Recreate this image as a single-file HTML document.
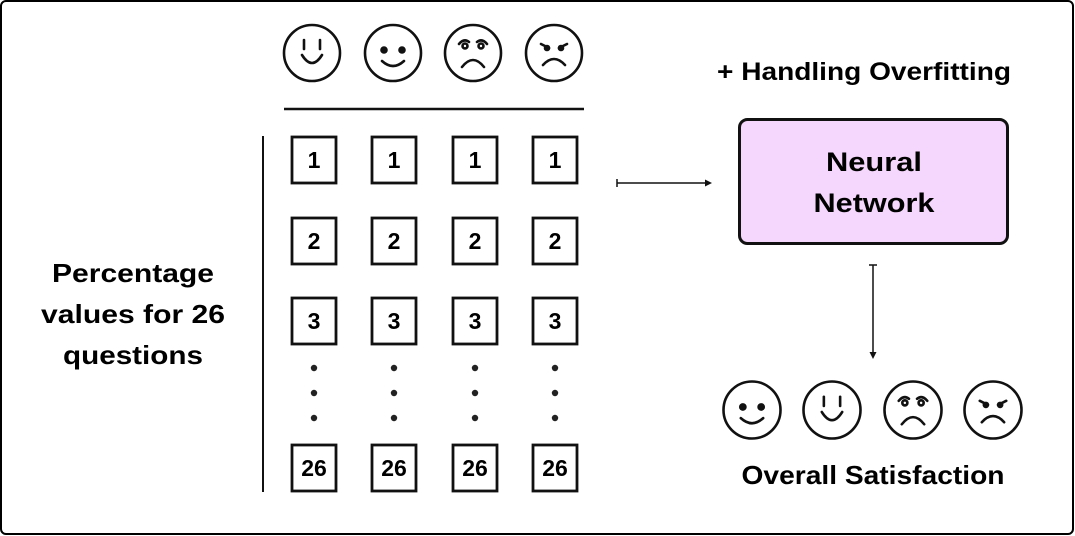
<!DOCTYPE html>
<html><head><meta charset="utf-8"><style>
html,body{margin:0;padding:0;background:#fff;}
svg{display:block;font-family:"Liberation Sans",sans-serif;font-weight:bold;}
</style></head><body>
<svg id="s" width="1075" height="536" viewBox="0 0 1075 536" xmlns="http://www.w3.org/2000/svg">
<rect x="1" y="1" width="1072" height="533" rx="5" fill="#fff" stroke="#000" stroke-width="2"/>
<line x1="284" y1="109" x2="584" y2="109" stroke="#111" stroke-width="2.5"/>
<line x1="263" y1="136" x2="263" y2="492" stroke="#111" stroke-width="2"/>
<g font-size="26" text-anchor="middle" fill="#000">
<text x="133" y="282" textLength="162" lengthAdjust="spacingAndGlyphs">Percentage</text>
<text x="133" y="323" textLength="184" lengthAdjust="spacingAndGlyphs">values for 26</text>
<text x="133" y="364" textLength="140" lengthAdjust="spacingAndGlyphs">questions</text>
</g>
<text x="864" y="80" font-size="25" text-anchor="middle" textLength="294" lengthAdjust="spacingAndGlyphs">+ Handling Overfitting</text>
<g>
<line x1="617" y1="183" x2="707" y2="183" stroke="#111" stroke-width="1.5"/>
<line x1="617" y1="179" x2="617" y2="187" stroke="#111" stroke-width="1.5"/>
<polygon points="712,183 705,179.5 705,186.5" fill="#111"/>
</g>
<rect x="739.5" y="119.5" width="268" height="124" rx="8" fill="#f5d6fc" stroke="#111" stroke-width="3"/>
<g font-size="27" text-anchor="middle">
<text x="874" y="171" textLength="96" lengthAdjust="spacingAndGlyphs">Neural</text>
<text x="874" y="212" textLength="121" lengthAdjust="spacingAndGlyphs">Network</text>
</g>
<g>
<line x1="873" y1="265" x2="873" y2="353" stroke="#111" stroke-width="1.5"/>
<line x1="869" y1="265" x2="877" y2="265" stroke="#111" stroke-width="1.5"/>
<polygon points="873,359 869.5,352 876.5,352" fill="#111"/>
</g>
<text x="873" y="484" font-size="26" text-anchor="middle" textLength="263" lengthAdjust="spacingAndGlyphs">Overall Satisfaction</text>
<g id="faces"></g>
<g id="grid"></g>
</svg>
<script>
const cols=[314,394,475,555];
const rows=[{y:160,t:'1'},{y:241,t:'2'},{y:321,t:'3'},{y:468,t:'26'}];
const dotsY=[368,393,418];
const topFaces=['smile','happy','sad','angry'];
const botFaces=['happy','smile','sad','angry'];
const NS='http://www.w3.org/2000/svg';
function mk(tag,attrs,parent){const e=document.createElementNS(NS,tag);for(const k in attrs)e.setAttribute(k,attrs[k]);parent.appendChild(e);return e;}
const grid=document.getElementById('grid');
cols.forEach((cx,ci)=>{
  rows.forEach(r=>{
    const g=mk('g',{},grid);
    
    
    mk('rect',{x:cx-22,y:r.y-23,width:44,height:46,fill:'#fff',stroke:'#111','stroke-width':2.8},g);
    const t=mk('text',{x:cx,y:r.y+8,'font-size':23,'text-anchor':'middle'},g);t.textContent=r.t;
  });
  dotsY.forEach(y=>{const d=mk('circle',{cx:cx,cy:y,r:3.2,fill:'#222'},grid);
    
    });
});
const faces=document.getElementById('faces');
function face(type,cx,cy,r){
  const g=mk('g',{fill:'none',stroke:'#111','stroke-width':2.6,'stroke-linecap':'round'},faces);
  
  
  mk('circle',{cx,cy,r,fill:'#fff'},g);
  const s=r/28;
  const P=(x,y)=>(cx+x*s)+','+(cy+y*s);
  if(type==='smile'){
    mk('line',{x1:cx-8*s,y1:cy-13*s,x2:cx-8*s,y2:cy-4*s},g);
    mk('line',{x1:cx+8*s,y1:cy-13*s,x2:cx+8*s,y2:cy-4*s},g);
    mk('path',{d:'M'+P(-10,2)+' Q'+P(0,18)+' '+P(10,2)},g);
  }else if(type==='happy'){
    mk('circle',{cx:cx-9*s,cy:cy-3*s,r:3.8*s,fill:'#111',stroke:'none'},g);
    mk('circle',{cx:cx+9*s,cy:cy-3*s,r:3.8*s,fill:'#111',stroke:'none'},g);
    mk('path',{d:'M'+P(-11,8)+' Q'+P(0,18)+' '+P(11,8)},g);
  }else if(type==='sad'){
    mk('circle',{cx:cx-8*s,cy:cy-7*s,r:2.5*s},g);
    mk('circle',{cx:cx+8*s,cy:cy-7*s,r:2.5*s},g);
    mk('path',{d:'M'+P(-14,-9)+' Q'+P(-9,-15)+' '+P(-4,-11)},g);
    mk('path',{d:'M'+P(14,-9)+' Q'+P(9,-15)+' '+P(4,-11)},g);
    mk('path',{d:'M'+P(-11,14)+' Q'+P(0,0)+' '+P(11,14)},g);
  }else{
    mk('path',{d:'M'+P(-13,-9)+' L'+P(-5,-5)},g);
    mk('path',{d:'M'+P(13,-9)+' L'+P(5,-5)},g);
    mk('circle',{cx:cx-7*s,cy:cy-5*s,r:2*s,fill:'#111'},g);
    mk('circle',{cx:cx+7*s,cy:cy-5*s,r:2*s,fill:'#111'},g);
    mk('path',{d:'M'+P(-11,12)+' Q'+P(0,0)+' '+P(11,12)},g);
  }
}
topFaces.forEach((f,i)=>face(f,[312,393,473,554][i],53,28));
botFaces.forEach((f,i)=>face(f,[752,832,913,993][i],410,28.5));
</script>
</body></html>
